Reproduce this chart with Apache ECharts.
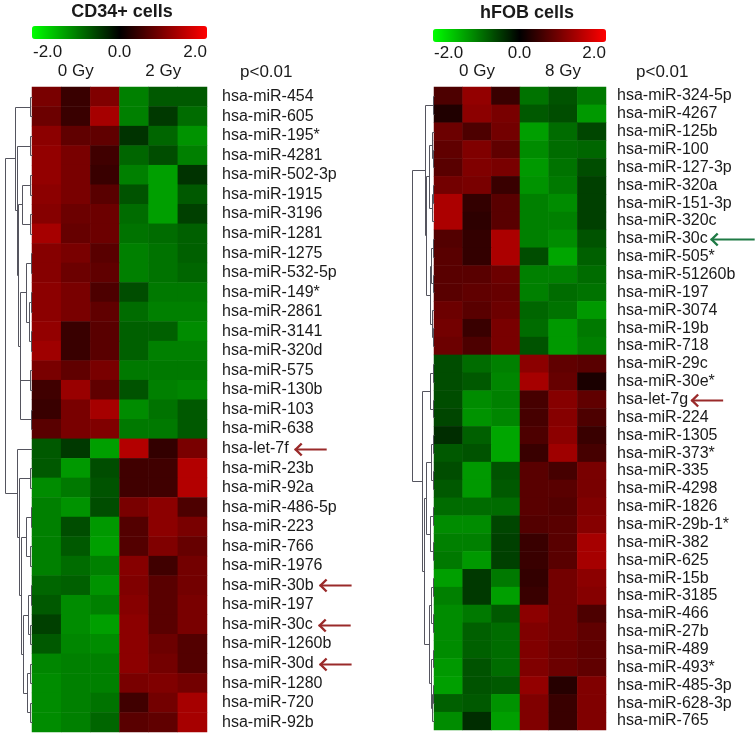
<!DOCTYPE html>
<html><head><meta charset="utf-8">
<script src="https://cdn.jsdelivr.net/npm/echarts@6/dist/echarts.min.js"></script>
<style>html,body{margin:0;padding:0;background:#fff}#c{width:755px;height:737px}</style>
</head><body><div id="c"></div>
<script>
// ---------------- DATA ----------------
const leftTitle = 'CD34+ cells';
const rightTitle = 'hFOB cells';
const pLabel = 'p<0.01';
const colorbarTicks = [-2, 0, 2];
const leftSamples = ['0Gy-1','0Gy-2','0Gy-3','2Gy-1','2Gy-2','2Gy-3'];
const rightSamples = ['0Gy-1','0Gy-2','0Gy-3','8Gy-1','8Gy-2','8Gy-3'];
const leftGroups = ['0 Gy','2 Gy'];
const rightGroups = ['0 Gy','8 Gy'];

const leftGenes = ['hsa-miR-454','hsa-miR-605','hsa-miR-195*','hsa-miR-4281','hsa-miR-502-3p','hsa-miR-1915','hsa-miR-3196','hsa-miR-1281','hsa-miR-1275','hsa-miR-532-5p','hsa-miR-149*','hsa-miR-2861','hsa-miR-3141','hsa-miR-320d','hsa-miR-575','hsa-miR-130b','hsa-miR-103','hsa-miR-638','hsa-let-7f','hsa-miR-23b','hsa-miR-92a','hsa-miR-486-5p','hsa-miR-223','hsa-miR-766','hsa-miR-1976','hsa-miR-30b','hsa-miR-197','hsa-miR-30c','hsa-miR-1260b','hsa-miR-30d','hsa-miR-1280','hsa-miR-720','hsa-miR-92b'];

const leftValues = [
  [0.95, 0.45, 1.0, -1.0, -0.7, -0.7],
  [0.85, 0.45, 1.3, -1.0, -0.45, -0.85],
  [1.1, 0.75, 0.75, -0.4, -0.8, -1.15],
  [1.15, 0.95, 0.5, -0.8, -0.6, -1.0],
  [1.15, 0.95, 0.45, -1.0, -1.25, -0.4],
  [1.1, 0.95, 0.7, -0.65, -1.25, -0.7],
  [1.05, 0.85, 0.85, -0.85, -1.25, -0.5],
  [1.3, 0.8, 0.85, -0.9, -0.85, -0.75],
  [1.05, 0.95, 0.7, -1.0, -0.9, -0.75],
  [1.05, 0.85, 0.75, -1.0, -0.9, -0.8],
  [1.1, 0.95, 0.6, -0.6, -0.95, -0.95],
  [1.1, 0.95, 0.75, -0.85, -1.0, -1.0],
  [1.15, 0.45, 0.7, -0.75, -0.75, -1.1],
  [1.25, 0.45, 0.7, -0.75, -1.0, -1.0],
  [0.95, 0.75, 0.95, -0.95, -0.95, -0.95],
  [0.5, 1.2, 0.75, -0.65, -1.0, -1.05],
  [0.45, 0.95, 1.3, -1.1, -0.9, -0.7],
  [0.7, 0.95, 1.0, -0.95, -0.95, -0.7],
  [-0.7, -0.45, -1.25, 1.4, 0.4, 0.95],
  [-0.7, -1.2, -0.6, 0.5, 0.5, 1.4],
  [-1.1, -0.95, -0.65, 0.5, 0.5, 1.4],
  [-1.0, -1.15, -0.6, 0.95, 1.1, 0.6],
  [-1.0, -0.6, -1.2, 0.65, 1.1, 0.95],
  [-1.0, -0.7, -1.25, 0.65, 1.0, 0.8],
  [-1.0, -0.85, -1.0, 1.05, 0.5, 0.9],
  [-0.8, -0.75, -1.15, 1.0, 0.7, 0.9],
  [-0.7, -1.1, -1.0, 1.05, 0.7, 0.95],
  [-0.5, -1.1, -1.25, 1.1, 0.7, 0.95],
  [-0.7, -1.05, -1.1, 1.1, 0.85, 0.65],
  [-1.05, -1.0, -1.0, 1.1, 0.9, 0.65],
  [-1.1, -1.0, -1.0, 0.95, 1.0, 0.9],
  [-1.1, -1.0, -0.9, 0.5, 0.9, 1.3],
  [-1.1, -1.0, -0.8, 0.7, 0.75, 1.3]
];

const rightGenes = ['hsa-miR-324-5p','hsa-miR-4267','hsa-miR-125b','hsa-miR-100','hsa-miR-127-3p','hsa-miR-320a','hsa-miR-151-3p','hsa-miR-320c','hsa-miR-30c','hsa-miR-505*','hsa-miR-51260b','hsa-miR-197','hsa-miR-3074','hsa-miR-19b','hsa-miR-718','hsa-miR-29c','hsa-miR-30e*','hsa-let-7g','hsa-miR-224','hsa-miR-1305','hsa-miR-373*','hsa-miR-335','hsa-miR-4298','hsa-miR-1826','hsa-miR-29b-1*','hsa-miR-382','hsa-miR-625','hsa-miR-15b','hsa-miR-3185','hsa-miR-466','hsa-miR-27b','hsa-miR-489','hsa-miR-493*','hsa-miR-485-3p','hsa-miR-628-3p','hsa-miR-765'];

const rightValues = [
  [0.6, 1.15, 0.45, -0.9, -0.65, -0.95],
  [0.25, 1.1, 0.95, -0.7, -0.6, -1.2],
  [0.85, 0.6, 0.9, -1.25, -0.85, -0.55],
  [0.75, 1.0, 0.75, -1.1, -0.85, -0.8],
  [0.7, 1.0, 0.95, -1.2, -0.9, -0.6],
  [0.9, 0.95, 0.45, -1.15, -0.95, -0.5],
  [1.35, 0.4, 0.7, -1.0, -1.1, -0.5],
  [1.35, 0.35, 0.7, -1.0, -1.0, -0.5],
  [0.65, 0.4, 1.35, -1.0, -1.1, -0.65],
  [0.7, 0.4, 1.35, -0.6, -1.3, -0.75],
  [0.7, 0.7, 0.85, -1.0, -1.0, -0.85],
  [0.7, 0.75, 0.8, -1.0, -0.85, -0.9],
  [0.85, 0.7, 0.85, -0.8, -0.9, -1.2],
  [0.9, 0.45, 0.95, -0.85, -1.2, -0.95],
  [0.85, 0.6, 0.95, -0.65, -1.2, -1.0],
  [-0.6, -0.85, -1.0, 1.1, 0.75, 0.7],
  [-0.6, -0.7, -1.05, 1.3, 0.8, 0.2],
  [-0.6, -1.1, -1.0, 0.55, 1.05, 0.75],
  [-0.55, -1.15, -1.05, 0.55, 1.05, 0.6],
  [-0.35, -0.75, -1.3, 0.6, 1.1, 0.45],
  [-0.7, -0.65, -1.3, 0.45, 1.25, 0.55],
  [-0.6, -1.2, -0.65, 0.7, 0.55, 0.95],
  [-0.7, -1.2, -0.7, 0.7, 0.7, 0.95],
  [-0.85, -0.85, -0.85, 0.7, 0.65, 1.0],
  [-1.1, -1.1, -0.55, 0.65, 0.7, 1.05],
  [-1.0, -1.0, -0.5, 0.45, 0.7, 1.3],
  [-0.95, -1.2, -0.5, 0.45, 0.7, 1.3],
  [-1.25, -0.45, -0.95, 0.4, 0.9, 1.1],
  [-1.0, -0.45, -1.25, 0.45, 0.9, 1.05],
  [-1.1, -0.95, -0.7, 1.1, 0.9, 0.6],
  [-1.1, -0.75, -0.85, 1.0, 0.9, 0.75],
  [-1.1, -0.75, -0.85, 1.0, 0.85, 0.75],
  [-1.2, -0.65, -0.85, 1.0, 0.85, 0.75],
  [-1.25, -0.65, -0.7, 1.15, 0.3, 1.0],
  [-0.75, -0.7, -1.15, 1.0, 0.45, 1.0],
  [-1.1, -0.35, -1.25, 1.0, 0.45, 1.0]
];

// dendrograms: [childA, childB, mergeHeight]; leaves are row indices
const leftTreeTop = [[0,1,2], [[2,3,2], [[[4,5,2.5],[6,7,2],10], [[[8,9,1.5],[[10,11,1.5],[12,13,1],3],6], [[14,15,2],[16,17,1.5],12], 12], 14], 15], 17];
const leftTreeBottom = [18, [[19,20,2], [[[21,22,1.5],[23,24,2],6], [[[25,26,1.5],[27,28,2],4],[[29,30,2],[31,32,2],5],9], 11], 13], 15];
const leftTree = [leftTreeTop, leftTreeBottom, 27];

const rightTreeTop = [[0,1,1], [[[2,[3,4,1],2.5],[[5,6,1],7,2],5], [[[8,9,1.5],[10,11,1],3.5],[12,[13,14,1],2],4.5], 8], 9];
const rightTreeBottom = [[[15,16,1.5],[17,18,1],4], [[[[19,20,1],[21,22,1.5],3],[[23,24,1],[25,26,1.5],4],8], [[[27,28,1.5],[29,30,1],3],[[31,32,1],[[33,34,1],35,2],3.5],5], 10], 12];
const rightTree = [rightTreeTop, rightTreeBottom, 22];

const leftArrows = [
  {gene:'hsa-let-7f', kind:'up'}, {gene:'hsa-miR-30b', kind:'up'},
  {gene:'hsa-miR-30c', kind:'up'}, {gene:'hsa-miR-30d', kind:'up'}
];
const rightArrows = [
  {gene:'hsa-miR-30c', kind:'down'}, {gene:'hsa-let-7g', kind:'up'}
];

// ---------------- STYLE / LAYOUT ----------------
const FONT = "'Liberation Sans', Arial, sans-serif";
const LBOX = {left:32, top:87, width:175, height:645};
const RBOX = {left:434, top:87, width:172, height:643};
const LDEN = {left:4, width:28};
const RDEN = {left:410, width:24};
const LCB = {left:32, top:26, width:175, height:13};
const RCB = {left:433, top:29, width:173, height:13};
const ARROW_STYLE = {up:{color:'#9a2a2a', len:32}, down:{color:'#1f7a45', len:44}};
const LABEL_FS = 16;

function heatData(vals){ const d=[]; vals.forEach((row,r)=>row.forEach((v,c)=>d.push([c,r,v]))); return d; }
function flatten(tree){
  const segs=[];
  (function walk(n){
    if (typeof n === 'number') return {y:n, h:0};
    const a = walk(n[0]), b = walk(n[1]);
    segs.push([n[2], a.y, b.y, a.h, b.h]);
    return {y:(a.y+b.y)/2, h:n[2]};
  })(tree);
  return segs;
}
function dendroRender(params, api){
  const h=api.value(0), y1=api.value(1), y2=api.value(2), h1=api.value(3), h2=api.value(4);
  const pts = [api.coord([h1,y1]), api.coord([h,y1]), api.coord([h,y2]), api.coord([h2,y2])]
    .map(p => [Math.round(p[0])+0.5, Math.round(p[1])+0.5]);
  return {type:'polyline', shape:{points:pts}, style:{stroke:'#55555f', lineWidth:1, fill:'none'}};
}

const chart = echarts.init(document.getElementById('c'));
const catX = (samples, groups, gi) => ({
  type:'category', gridIndex:gi, data:samples, position:'top',
  axisLine:{show:false}, axisTick:{show:false}, splitLine:{show:false},
  axisLabel:{interval:0, margin:7, fontSize:17, color:'#1a1a1a', fontFamily:FONT,
    formatter:(v,i)=> (i%3===1 ? groups[Math.floor(i/3)] : '')}
});
const catY = (genes, gi, margin) => ({
  type:'category', gridIndex:gi, data:genes, inverse:true, position:'right',
  axisLine:{show:false}, axisTick:{show:false}, splitLine:{show:false},
  axisLabel:{interval:0, margin:margin, fontSize:LABEL_FS, color:'#1a1a1a', fontFamily:FONT}
});
const denX = (gi, max) => ({type:'value', gridIndex:gi, min:0, max:max, inverse:true, show:false});
const denY = (gi, n) => ({type:'value', gridIndex:gi, min:-0.5, max:n-0.5, inverse:true, show:false});

const option = {
  animation:false,
  grid:[
    {left:LBOX.left, top:LBOX.top, width:LBOX.width, height:LBOX.height},
    {left:RBOX.left, top:RBOX.top, width:RBOX.width, height:RBOX.height},
    {left:LDEN.left, top:LBOX.top, width:LDEN.width, height:LBOX.height},
    {left:RDEN.left, top:RBOX.top, width:RDEN.width, height:RBOX.height}
  ],
  xAxis:[catX(leftSamples,leftGroups,0), catX(rightSamples,rightGroups,1), denX(2, LDEN.width), denX(3, RDEN.width)],
  yAxis:[catY(leftGenes,0,15), catY(rightGenes,1,11), denY(2,leftGenes.length), denY(3,rightGenes.length)],
  visualMap:[
    {type:'continuous', seriesIndex:0, min:-2, max:2, orient:'horizontal', left:LCB.left, top:LCB.top,
     itemWidth:LCB.height, itemHeight:LCB.width, padding:0, calculable:false, hoverLink:false, text:null,
     inRange:{color:['#00ff00','#000000','#ff0000']}},
    {type:'continuous', seriesIndex:1, min:-2, max:2, orient:'horizontal', left:RCB.left, top:RCB.top,
     itemWidth:RCB.height, itemHeight:RCB.width, padding:0, calculable:false, hoverLink:false, text:null,
     inRange:{color:['#00ff00','#000000','#ff0000']}}
  ],
  series:[
    {type:'heatmap', xAxisIndex:0, yAxisIndex:0, data:heatData(leftValues), emphasis:{disabled:true}, itemStyle:{borderWidth:0}},
    {type:'heatmap', xAxisIndex:1, yAxisIndex:1, data:heatData(rightValues), emphasis:{disabled:true}, itemStyle:{borderWidth:0}},
    {type:'custom', xAxisIndex:2, yAxisIndex:2, data:flatten(leftTree), renderItem:dendroRender, encode:{x:[0,3,4], y:[1,2]}, silent:true},
    {type:'custom', xAxisIndex:3, yAxisIndex:3, data:flatten(rightTree), renderItem:dendroRender, encode:{x:[0,3,4], y:[1,2]}, silent:true}
  ]
};
chart.setOption(option);

// ---------- texts & arrows ----------
const ctx = document.createElement('canvas').getContext('2d');
ctx.font = LABEL_FS + 'px ' + FONT;
const g = [];
function txt(x, y, s, size, align, bold){
  g.push({type:'text', x:x, y:y, silent:true, style:{text:s, fill:'#1a1a1a', font:(bold?'bold ':'')+size+'px '+FONT, textAlign:align, textVerticalAlign:'middle'}});
}
txt(122, 12, leftTitle, 18, 'center', true);
txt(527, 13.5, rightTitle, 18, 'center', true);
function ticks(cb, y){
  colorbarTicks.forEach((v,i)=>{
    const x = cb.left + (v - colorbarTicks[0])/(colorbarTicks[colorbarTicks.length-1]-colorbarTicks[0])*cb.width;
    const align = i===0 ? 'left' : (i===colorbarTicks.length-1 ? 'right' : 'center');
    txt(x + (i===0?1:0), y, v.toFixed(1), 17, align, false);
  });
}
ticks(LCB, 52);
ticks(RCB, 53);
txt(240, 72, pLabel, 17, 'left', false);
txt(636, 72, pLabel, 17, 'left', false);

function arrows(list, yAxisIndex, labelX, gap){
  list.forEach(a=>{
    const y = Math.round(chart.convertToPixel({yAxisIndex:yAxisIndex}, a.gene)) + 0.5;
    const x0 = labelX + ctx.measureText(a.gene).width + gap;
    const st = ARROW_STYLE[a.kind];
    g.push({type:'polyline', silent:true, shape:{points:[[x0,y],[x0+st.len,y]]}, style:{stroke:st.color, lineWidth:2.2, fill:'none'}});
    g.push({type:'polyline', silent:true, shape:{points:[[x0+7,y-6],[x0+1,y],[x0+7,y+6]]}, style:{stroke:st.color, lineWidth:2.4, fill:'none', lineJoin:'miter'}});
  });
}
arrows(leftArrows, 0, LBOX.left + LBOX.width + 15, 6);
arrows(rightArrows, 1, RBOX.left + RBOX.width + 11, 3);
chart.setOption({graphic:g});
</script></body></html>
